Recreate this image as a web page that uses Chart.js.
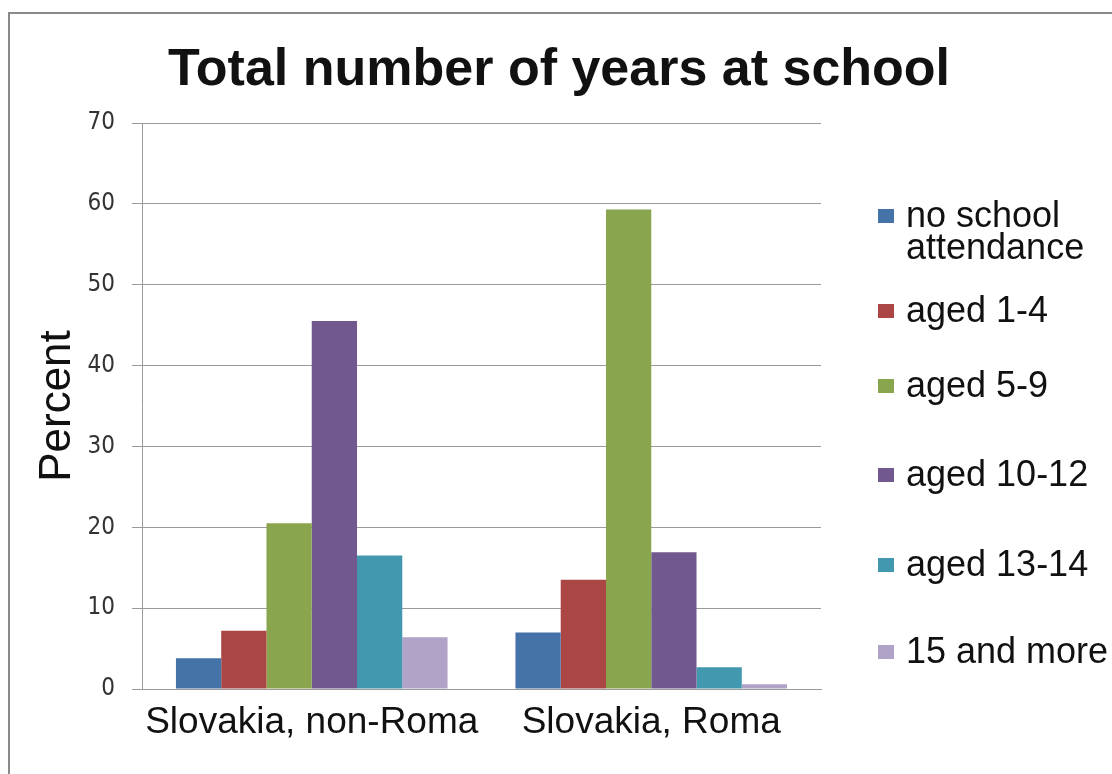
<!DOCTYPE html>
<html>
<head>
<meta charset="utf-8">
<script src="https://cdn.jsdelivr.net/npm/chart.js@4.4.1/dist/chart.umd.min.js"></script>
<style>
  html, body { margin: 0; padding: 0; background: #fff; overflow: hidden; }
  #wrap { position: relative; width: 1112px; height: 774px; }
  #frame { position: absolute; left: 8px; top: 12px; width: 1300px; height: 1000px;
           border: 2px solid #8a8a8a; box-sizing: border-box; }
  #chart { position: absolute; left: 0; top: 0; }
  #title { position: absolute; left: 0; top: 41px; width: 1118px; text-align: center;
           font: bold 52px "Liberation Sans", Arial, sans-serif; line-height: 52px; color: #111; }
  .row { position: absolute; left: 878px; width: 240px; height: 70px; }
  .swatch { position: absolute; left: 0; top: 10px; width: 16px; height: 14px; }
  .label { position: absolute; left: 28px; top: 0; width: 205px;
           font: 36px "Liberation Sans", Arial, sans-serif; line-height: 32px; color: #111; }
</style>
</head>
<body>
<div id="wrap">
  <div id="frame"></div>
  <canvas id="chart" width="1112" height="774"></canvas>
  <div id="title">Total number of years at school</div>
  <div id="legend"></div>
</div>
<script>
const categories = ['Slovakia, non-Roma', 'Slovakia, Roma'];
const seriesNames = ['no school attendance', 'aged 1-4', 'aged 5-9', 'aged 10-12', 'aged 13-14', '15 and more'];
const seriesColors = ['#4572a7', '#aa4643', '#89a54e', '#71588f', '#4198af', '#b1a2c7'];

// percent per category: [non-Roma, Roma]
const noSchool   = [3.8, 7.0];
const aged1to4   = [7.2, 13.5];
const aged5to9   = [20.5, 59.3];
const aged10to12 = [45.5, 16.9];
const aged13to14 = [16.5, 2.7];
const aged15plus = [6.4, 0.6];

const yTicks = [0, 10, 20, 30, 40, 50, 60, 70];

const seriesValues = [noSchool, aged1to4, aged5to9, aged10to12, aged13to14, aged15plus];

// legend rows, top edge of each entry
const legendRowTop = [199, 294, 369, 458, 548, 635];

const legend = document.getElementById('legend');
seriesNames.forEach((name, i) => {
  const row = document.createElement('div');
  row.className = 'row';
  row.style.top = legendRowTop[i] + 'px';
  row.innerHTML = '<span class="swatch" style="background:' + seriesColors[i] + '"></span>' +
                  '<span class="label">' + name + '</span>';
  legend.appendChild(row);
});

const gridGray = '#9a9a9a';

new Chart(document.getElementById('chart').getContext('2d'), {
  type: 'bar',
  data: {
    labels: categories,
    datasets: seriesNames.map((name, i) => ({
      label: name,
      data: seriesValues[i],
      backgroundColor: seriesColors[i],
      borderWidth: 0,
      categoryPercentage: 0.8,
      barPercentage: 1.0,
    }))
  },
  options: {
    responsive: false,
    animation: false,
    events: [],
    layout: { padding: { left: 0, top: 123, right: 291, bottom: 0 } },
    plugins: {
      legend: { display: false },
      title: { display: false },
      tooltip: { enabled: false }
    },
    scales: {
      x: {
        afterFit: (s) => { s.height = 85; },
        grid: { display: false, drawTicks: false },
        border: { display: true, color: gridGray, width: 1 },
        ticks: {
          color: '#111',
          padding: 12,
          maxRotation: 0,
          font: { family: '"Liberation Sans", Arial, sans-serif', size: 37 }
        }
      },
      y: {
        min: 0,
        max: 70,
        afterFit: (s) => { s.width = 142; },
        afterBuildTicks: (s) => { s.ticks = yTicks.map(v => ({ value: v })); },
        grid: { color: gridGray, lineWidth: 1, tickLength: 10 },
        border: { display: true, color: gridGray, width: 1 },
        ticks: {
          color: '#333',
          padding: 17,
          font: { family: '"DejaVu Sans Condensed", "DejaVu Sans", Verdana, sans-serif', size: 24 }
        },
        title: {
          display: true,
          text: 'Percent',
          color: '#111',
          padding: { top: 36, bottom: 0 },
          font: { family: '"Liberation Sans", Arial, sans-serif', size: 44, lineHeight: 1 }
        }
      }
    }
  }
});
</script>
</body>
</html>
